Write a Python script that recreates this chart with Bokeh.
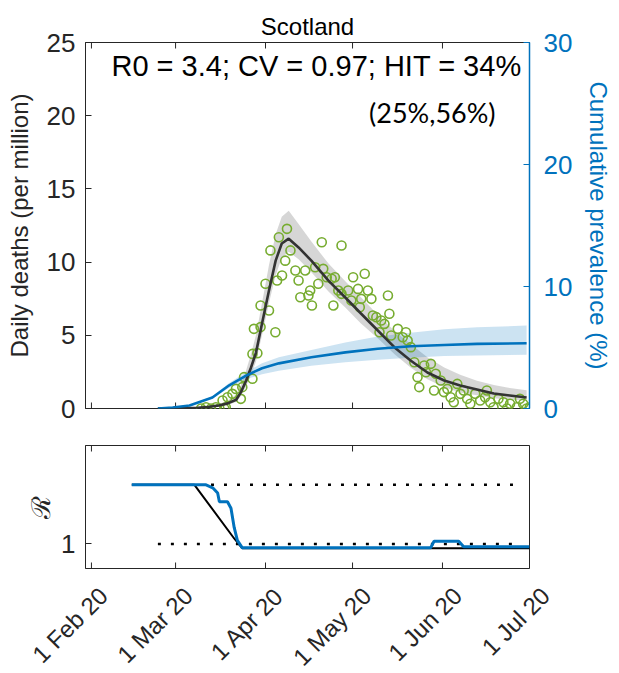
import math
from bokeh.plotting import figure
from bokeh.models import Range1d, LinearAxis, FixedTicker, Label
from bokeh.layouts import column
from bokeh.embed import file_html
from bokeh.resources import INLINE
from bokeh.core.properties import value

# ---------------- data (x = days since 1 Feb 2020) ----------------
month_ticks = [0, 29, 60, 90, 121, 151]
month_labels = ["1 Feb 20", "1 Mar 20", "1 Apr 20", "1 May 20", "1 Jun 20", "1 Jul 20"]

# observed daily deaths per million (green circles)
death_days = [37.8, 39.5, 41.2, 42.9, 44.1, 45.8, 46.3, 45.2, 46.9, 48.6, 49.8, 51.5, 52.0, 52.6,
              55.5, 55.5, 57.2, 56.0, 58.3, 63.4, 58.3, 61.2, 60.0, 64.0, 65.7, 66.8, 61.7, 64.6,
              67.4, 68.6, 70.3, 71.4, 72.0, 74.8, 75.4, 76.0, 73.7, 77.1, 78.2, 79.9, 81.1, 82.8,
              83.9, 79.4, 86.2, 83.4, 85.1, 86.2, 88.5, 89.6, 90.2, 91.9, 93.0, 94.2, 95.3, 96.5,
              92.5, 102.2, 97.0, 98.2, 99.9, 102.7, 101.0, 99.3, 103.3, 105.6, 108.4, 107.3, 109.0,
              110.1, 111.3, 114.7, 117.0, 112.4, 113.0, 115.3, 118.7, 118.1, 120.4, 121.5, 122.7,
              123.8, 124.9, 126.1, 127.2, 128.3, 129.5, 130.6, 132.3, 134.0, 135.7, 136.3, 137.5,
              138.6, 140.3, 142.0, 143.2, 144.3, 146.6, 147.7, 148.8, 150.0, 151.1]
death_values = [0.0, 0.09, 0.0, 0.09, 0.0, 0.0, 0.09, 0.55, 0.77, 1.0, 1.34, 0.66, 1.46, 2.14,
                2.03, 3.73, 3.78, 5.44, 5.56, 5.21, 7.04, 6.69, 8.52, 8.74, 9.08, 10.1, 10.8, 11.7,
                12.27, 10.8, 9.43, 8.74, 7.6, 7.72, 8.06, 7.04, 9.43, 9.65, 8.52, 9.54, 8.97, 8.86,
                8.97, 11.36, 11.13, 7.04, 8.06, 7.83, 8.06, 7.38, 8.97, 8.17, 7.49, 9.2, 8.06, 7.49,
                6.92, 7.72, 6.35, 6.24, 6.01, 6.47, 5.78, 5.21, 4.99, 5.44, 5.21, 4.87, 4.64,
                4.19, 3.16, 2.94, 3.05, 2.14, 1.46, 2.48, 2.37, 1.23, 1.91, 1.12, 1.34,
                0.77, 0.43, 1.68, 1.0, 1.23, 0.66, 0.32, 1.0, 0.55, 0.77, 1.23, 0.43,
                0.09, 0.66, 0.43, 0.0, 0.32, 0.09, 0.66, 0.32, 0.0, 0.09]

# model fit of daily deaths with credible band
fit_days = [22.9, 30, 36.6, 40, 44, 47, 49.9, 51.5, 53.3, 55, 56.7, 58.8, 61.2, 63.5, 65.6, 68.0,
            71.4, 75.8, 81.7, 87.5, 92.9, 98.7, 104.5, 110, 115.8, 121.6, 127.1, 132.9, 138.7,
            144.2, 150]
fit_deaths = [0, 0.02, 0.05, 0.1, 0.2, 0.35, 0.6, 1.1, 1.9, 2.8, 3.8, 5.8, 8.06, 10.1, 11.27, 11.6,
              11.0, 10.1, 8.74, 7.58, 6.49, 5.33, 4.17, 3.28, 2.46, 1.91, 1.57, 1.30, 1.02,
              0.89, 0.75]
fit_deaths_lo = [0, 0.01, 0.03, 0.07, 0.15, 0.25, 0.45, 0.85, 1.5, 2.3, 3.2, 5.0, 7.2, 9.1, 10.3,
                 10.7, 10.2, 9.3, 8.0, 6.9, 5.8, 4.8, 3.7, 2.8, 2.0, 1.45, 1.1, 0.9, 0.7, 0.6, 0.55]
fit_deaths_hi = [0, 0.03, 0.08, 0.15, 0.3, 0.55, 0.95, 1.6, 2.6, 3.7, 5.0, 7.2, 9.8, 11.9, 13.1,
                 13.5, 12.6, 11.4, 9.9, 8.7, 7.6, 6.4, 5.3, 4.4, 3.5, 2.8, 2.3, 1.9, 1.6, 1.4, 1.25]

# cumulative prevalence (%) with band
prev_days = [22.9, 28, 33.8, 41.7, 47.5, 53.3, 58.8, 64.6, 75.8, 87.5, 98.7, 110, 121.6, 132.9, 150]
prev_values = [0, 0.08, 0.25, 0.9, 1.9, 2.7, 3.3, 3.7, 4.2, 4.6, 4.9, 5.1, 5.2, 5.3, 5.35]
prev_lo = [0, 0.07, 0.22, 0.8, 1.7, 2.4, 2.8, 3.1, 3.5, 3.8, 4.0, 4.15, 4.3, 4.35, 4.4]
prev_hi = [0, 0.09, 0.28, 1.0, 2.1, 3.0, 3.7, 4.2, 4.8, 5.4, 5.9, 6.2, 6.5, 6.65, 6.8]

# reproduction number (lower panel)
r_blue_days = [13.9, 39.5, 41.8, 43.5, 44.1, 46.9, 48.1, 49.2, 50.3, 52.0, 116.9, 118.1, 126.6, 128.3, 151]
r_blue_values = [3.4, 3.4, 3.28, 3.07, 2.71, 2.71, 2.45, 1.67, 1.14, 0.84, 0.84, 1.11, 1.11, 0.88, 0.88]
r_black_days = [13.9, 35.5, 49.2, 52.0, 151]
r_black_values = [3.4, 3.4, 1.22, 0.82, 0.82]
r0_line_days = [41.2, 148.3]
r0_line_values = [3.4, 3.4]
one_line_days = [22.9, 148.3]
one_line_values = [1, 1]

# ---------------- styling ----------------
FONT = "Liberation Sans"
DARK = "#262626"
BLUE = "#0072BD"
GREEN = "#77AC30"
XR = (-2.05, 151)
W = 615
BL, BR = 85, 82              # left / right borders of the plot frames
DAYS_PER_PX = (XR[1] - XR[0]) / (W - BL - BR)

def style_axis(ax, color=DARK, size="26px"):
    ax.axis_line_color = color
    ax.major_tick_line_color = color
    ax.major_tick_in = 6
    ax.major_tick_out = 0
    ax.minor_tick_line_color = None
    ax.major_label_text_font = FONT
    ax.major_label_text_font_size = size
    ax.major_label_text_color = color
    ax.axis_label_text_font = FONT
    ax.axis_label_text_font_style = "normal"
    ax.axis_label_text_color = color

def edge_ticks(fig, y_edge):
    # short inward tick marks on a horizontal frame edge (half of each dash is clipped)
    fig.scatter(x=month_ticks, y=[y_edge] * len(month_ticks), marker="dash", angle=math.pi / 2,
                size=12, line_color=DARK, line_width=1)

# ---------------- top figure ----------------
p = figure(width=W, height=425, x_range=Range1d(*XR), y_range=Range1d(0, 25),
           output_backend="svg", toolbar_location=None,
           min_border_left=BL, min_border_right=BR, min_border_top=42, min_border_bottom=17)
p.extra_y_ranges = {"prev": Range1d(0, 30)}
p.grid.visible = False
p.outline_line_color = DARK
p.xaxis.visible = False

p.title.text = "Scotland"
p.title.align = "center"
p.title.text_font = FONT
p.title.text_font_size = "24px"
p.title.text_font_style = "normal"
p.title.text_color = "black"
p.title.standoff = 6

p.yaxis.ticker = FixedTicker(ticks=[0, 5, 10, 15, 20, 25])
style_axis(p.yaxis[0])
p.yaxis.axis_label = "Daily deaths (per million)"
p.yaxis.axis_label_text_font_size = "24px"
p.yaxis.major_label_standoff = 10
p.yaxis.axis_label_standoff = 11

right_ax = LinearAxis(y_range_name="prev", ticker=FixedTicker(ticks=[0, 10, 20, 30]),
                      axis_label="Cumulative prevalence (%)")
style_axis(right_ax, BLUE)
right_ax.axis_line_width = 1.5
right_ax.axis_label_text_font_size = "24px"
right_ax.major_label_standoff = 14
right_ax.axis_label_standoff = 10
p.add_layout(right_ax, "right")

edge_ticks(p, 0)
edge_ticks(p, 25)

p.varea(x=fit_days, y1=fit_deaths_lo, y2=fit_deaths_hi, fill_color="#C8C8C8", fill_alpha=0.75)
p.varea(x=prev_days, y1=prev_lo, y2=prev_hi, fill_color=BLUE, fill_alpha=0.2, y_range_name="prev")
p.scatter(x=death_days, y=death_values, size=9, marker="circle", fill_color=None,
          line_color=GREEN, line_width=1.6)
p.line(x=fit_days, y=fit_deaths, line_color="#333333", line_width=2.6)
p.line(x=prev_days, y=prev_values, line_color=BLUE, line_width=2.6, y_range_name="prev")

p.add_layout(Label(x=77.6, y=25, y_offset=-23, text="R0 = 3.4; CV = 0.97; HIT = 34%",
                   text_align="center", text_baseline="middle", text_font=FONT,
                   text_font_size="29px", text_color="black"))
p.add_layout(Label(x=117.5, y=25, y_offset=-70, text="(25%,56%)", text_align="center",
                   text_baseline="middle", text_font="Lato", text_font_size="27px",
                   text_color="black"))

# ---------------- lower figure ----------------
q = figure(width=W, height=148, x_range=Range1d(*XR), y_range=Range1d(0, 5),
           output_backend="svg", toolbar_location=None,
           min_border_left=BL, min_border_right=BR, min_border_top=20, min_border_bottom=5)
q.grid.visible = False
q.outline_line_color = DARK
q.xaxis.visible = False

q.yaxis.ticker = FixedTicker(ticks=[1])
style_axis(q.yaxis[0])
q.yaxis.axis_label = "ℛ"
q.yaxis.axis_label_text_font_size = "26px"
q.yaxis.major_label_standoff = 10
q.yaxis.axis_label_standoff = 2

edge_ticks(q, 5)
edge_ticks(q, 0)

q.line(x=one_line_days, y=one_line_values, line_color="black", line_width=2.5, line_dash="3 10")
q.line(x=r0_line_days, y=r0_line_values, line_color="black", line_width=2.5, line_dash="3 10")
q.line(x=r_black_days, y=r_black_values, line_color="black", line_width=2)
q.line(x=r_blue_days, y=r_blue_values, line_color=BLUE, line_width=3)

# ---------------- rotated date tick labels (same x scale, full-width frame) ----------------
d = figure(width=W, height=100,
           x_range=Range1d(XR[0] - BL * DAYS_PER_PX, XR[1] + BR * DAYS_PER_PX),
           y_range=Range1d(0, 100), output_backend="svg", toolbar_location=None,
           min_border_left=0, min_border_right=0, min_border_top=0, min_border_bottom=0)
d.axis.visible = False
d.grid.visible = False
d.outline_line_color = None
d.text(x=month_ticks, y=[100] * len(month_ticks), text=month_labels, angle=math.pi / 4,
       x_offset=12, y_offset=18, text_align="right", text_baseline="middle",
       text_font=value(FONT), text_font_size="24px", text_color=DARK)

layout = column(p, q, spacing=0)
open("out.html", "w").write(file_html([layout, d], INLINE))
